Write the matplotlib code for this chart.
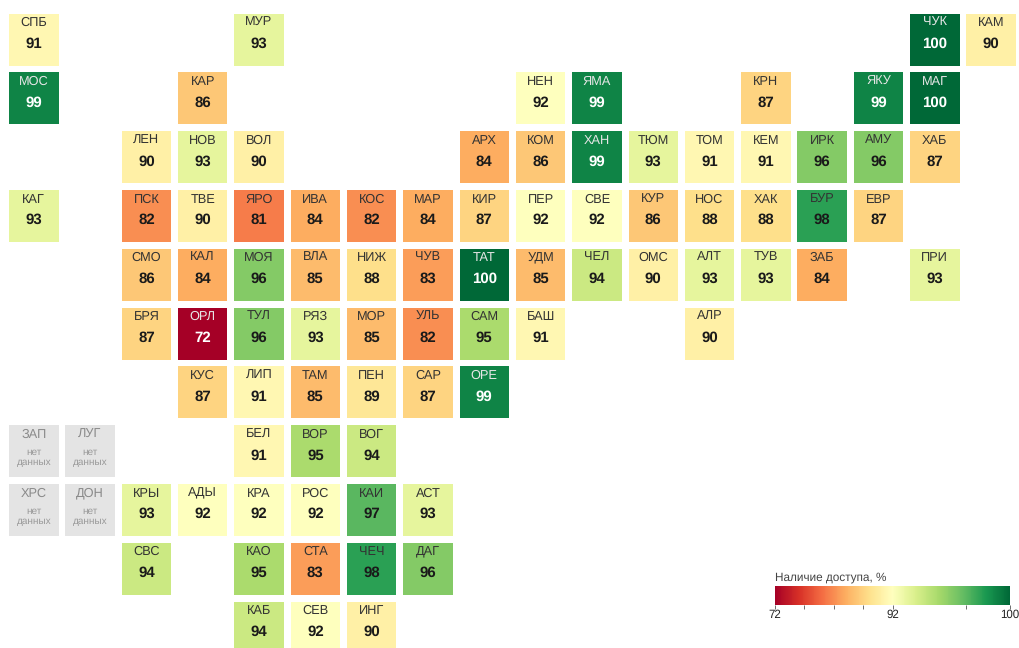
import matplotlib
matplotlib.use("Agg")
import matplotlib.pyplot as plt
from matplotlib.colors import TwoSlopeNorm
from matplotlib.cm import ScalarMappable
from matplotlib.patches import Rectangle

plt.rcParams['font.family'] = ['Liberation Sans', 'DejaVu Sans']
plt.rcParams['text.hinting'] = 'no_hinting'

codes = ['СПБ', 'МУР', 'ЧУК', 'КАМ',
         'МОС', 'КАР', 'НЕН', 'ЯМА', 'КРН', 'ЯКУ', 'МАГ',
         'ЛЕН', 'НОВ', 'ВОЛ', 'АРХ', 'КОМ', 'ХАН', 'ТЮМ', 'ТОМ', 'КЕМ', 'ИРК', 'АМУ', 'ХАБ',
         'КАГ', 'ПСК', 'ТВЕ', 'ЯРО', 'ИВА', 'КОС', 'МАР', 'КИР', 'ПЕР', 'СВЕ', 'КУР', 'НОС', 'ХАК', 'БУР', 'ЕВР',
         'СМО', 'КАЛ', 'МОЯ', 'ВЛА', 'НИЖ', 'ЧУВ', 'ТАТ', 'УДМ', 'ЧЕЛ', 'ОМС', 'АЛТ', 'ТУВ', 'ЗАБ', 'ПРИ',
         'БРЯ', 'ОРЛ', 'ТУЛ', 'РЯЗ', 'МОР', 'УЛЬ', 'САМ', 'БАШ', 'АЛР',
         'КУС', 'ЛИП', 'ТАМ', 'ПЕН', 'САР', 'ОРЕ',
         'ЗАП', 'ЛУГ', 'БЕЛ', 'ВОР', 'ВОГ',
         'ХРС', 'ДОН', 'КРЫ', 'АДЫ', 'КРА', 'РОС', 'КАИ', 'АСТ',
         'СВС', 'КАО', 'СТА', 'ЧЕЧ', 'ДАГ',
         'КАБ', 'СЕВ', 'ИНГ']
cols = [0, 4, 16, 17,
        0, 3, 9, 10, 13, 15, 16,
        2, 3, 4, 8, 9, 10, 11, 12, 13, 14, 15, 16,
        0, 2, 3, 4, 5, 6, 7, 8, 9, 10, 11, 12, 13, 14, 15,
        2, 3, 4, 5, 6, 7, 8, 9, 10, 11, 12, 13, 14, 16,
        2, 3, 4, 5, 6, 7, 8, 9, 12,
        3, 4, 5, 6, 7, 8,
        0, 1, 4, 5, 6,
        0, 1, 2, 3, 4, 5, 6, 7,
        2, 4, 5, 6, 7,
        4, 5, 6]
rows = [0] * 4 + [1] * 7 + [2] * 12 + [3] * 15 + [4] * 14 + [5] * 9 + [6] * 6 + [7] * 5 + [8] * 8 + [9] * 5 + [10] * 3
values = [91, 93, 100, 90,
          99, 86, 92, 99, 87, 99, 100,
          90, 93, 90, 84, 86, 99, 93, 91, 91, 96, 96, 87,
          93, 82, 90, 81, 84, 82, 84, 87, 92, 92, 86, 88, 88, 98, 87,
          86, 84, 96, 85, 88, 83, 100, 85, 94, 90, 93, 93, 84, 93,
          87, 72, 96, 93, 85, 82, 95, 91, 90,
          87, 91, 85, 89, 87, 99,
          None, None, 91, 95, 94,
          None, None, 93, 92, 92, 92, 97, 93,
          94, 95, 83, 98, 96,
          94, 92, 90]
cbar_ticks = [72, 77, 82, 87, 92, 97, 100]
cbar_labels = ['72', '', '', '', '92', '', '100']

W, H = 1019, 648
fig = plt.figure(figsize=(W / 100, H / 100), dpi=100)
ax = fig.add_axes([0, 0, 1, 1])

# one grid step in pixels, first tile starts at 9,13.5
step_x, step_y = 56.32, 58.8
ax.set_xlim(-9 / step_x, (W - 9) / step_x)
ax.set_ylim((H - 13.5) / step_y, -13.5 / step_y)
ax.axis('off')

cmap = plt.get_cmap('RdYlGn')
norm = TwoSlopeNorm(vmin=72, vcenter=92, vmax=100)
tile_w, tile_h = 49.5 / step_x, 52 / step_y

for code, c, r, v in zip(codes, cols, rows, values):
    cx = c + tile_w / 2
    if v is None:
        ax.add_patch(Rectangle((c, r), tile_w, tile_h, fc='#e4e4e4', ec='none'))
        ax.text(cx, r + 0.215, code, ha='center', va='baseline', fontsize=9.2, color='#8a8a8a')
        ax.text(cx, r + 0.51, 'нет', ha='center', va='baseline', fontsize=7.2, color='#999999')
        ax.text(cx, r + 0.68, 'данных', ha='center', va='baseline', fontsize=7.2, color='#999999')
        continue
    ax.add_patch(Rectangle((c, r), tile_w, tile_h, fc=cmap(norm(v)), ec='none'))
    light = v >= 99 or v <= 72
    ax.text(cx, r + 0.215, code, ha='center', va='baseline', fontsize=9.2,
            color='#e6e6e6' if light else '#333333')
    ax.text(cx, r + 0.585, str(v), ha='center', va='baseline', fontsize=10.8, fontweight='bold',
            color='white' if light else '#1a1a1a')

# legend
cax = fig.add_axes([775 / W, 1 - 605 / H, 235 / W, 19 / H])
cb = fig.colorbar(ScalarMappable(norm=norm, cmap=cmap), cax=cax, orientation='horizontal')
cb.outline.set_visible(False)
cb.set_ticks(cbar_ticks, labels=cbar_labels)
cb.minorticks_off()
cax.tick_params(axis='x', length=3, width=0.6, pad=0, labelsize=8.3, color='#555555', labelcolor='#222222')
fig.text(775 / W, 1 - 577 / H, 'Наличие доступа, %', fontsize=8.5, color='#444444', ha='left', va='center')

fig.savefig('out.png', dpi=100)
